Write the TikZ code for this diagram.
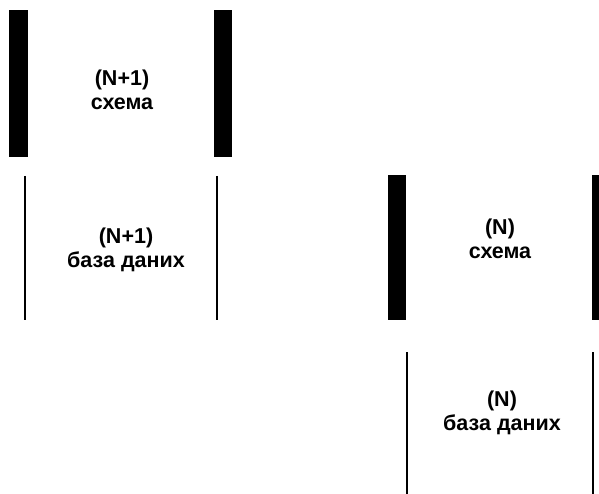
\documentclass[tikz,border=0pt]{standalone}
\usepackage{fontspec}
\setmainfont{Liberation Sans}
\begin{document}
\begin{tikzpicture}[x=1pt,y=-1pt,
  lbl/.style={font=\bfseries\fontsize{21.5}{24.5}\selectfont,align=center,inner sep=0pt},
  thickbar/.style={fill=black,draw=none},
  thinbar/.style={draw=black,line width=2.2pt}]
\useasboundingbox (0,0) rectangle (599,494);
% (N+1) schema
\fill[thickbar] (9,10) rectangle (28,157);
\fill[thickbar] (214,10) rectangle (232,157);
\node[lbl] (s1) at (122,90) {(N+1)\\схема};
% (N+1) database
\draw[thinbar] (25,176) -- (25,320);
\draw[thinbar] (217,176) -- (217,320);
\node[lbl] (d1) at (126,250) {(N+1)\\база даних};
% (N) schema
\fill[thickbar] (388,175) rectangle (406,320);
\fill[thickbar] (592,175) rectangle (610,320);
\node[lbl] (s2) at (500,239) {(N)\\схема};
% (N) database
\draw[thinbar] (407,352) -- (407,494);
\draw[thinbar] (593,352) -- (593,494);
\node[lbl] (d2) at (502,413) {(N)\\база даних};
\end{tikzpicture}
\end{document}
